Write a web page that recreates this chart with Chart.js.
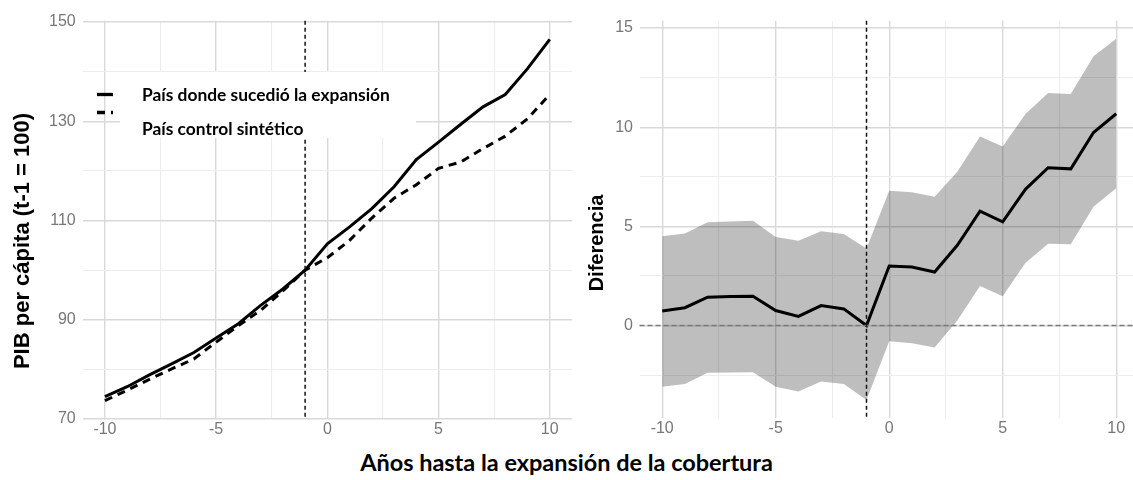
<!DOCTYPE html>
<html lang="es">
<head>
<meta charset="utf-8">
<script src="https://cdn.jsdelivr.net/npm/chart.js@4.4.1/dist/chart.umd.min.js"></script>
<style>
  html, body { margin: 0; padding: 0; background: #fff; }
  body { width: 1133px; height: 480px; position: relative; overflow: hidden; }
  #graficoIzq { position: absolute; left: 0; top: 0; }
  #graficoDer { position: absolute; left: 576px; top: 0; }
  #tituloX { position: absolute; left: 0; width: 1133px; text-align: center; white-space: nowrap;
             font-family: Lato, "Open Sans", sans-serif; font-weight: bold; color: #000; line-height: 1; }
</style>
</head>
<body>
<canvas id="graficoIzq" width="576" height="445"></canvas>
<canvas id="graficoDer" width="557" height="445"></canvas>
<div id="tituloX"></div>

<script>
// datos
const anios = [-10, -9, -8, -7, -6, -5, -4, -3, -2, -1, 0, 1, 2, 3, 4, 5, 6, 7, 8, 9, 10];
const pibPais = [74.5, 76.5, 78.9, 81.1, 83.4, 86.3, 89.2, 92.9, 96.2, 100, 105.3, 108.7, 112.4, 116.8, 122.3, 125.8, 129.4, 132.9, 135.4, 140.6, 146.5];
const pibSintetico = [73.7, 75.8, 78.0, 80.1, 82.1, 85.5, 88.8, 91.9, 95.8, 100, 102.5, 106.0, 110.5, 114.5, 117.2, 120.5, 121.8, 124.5, 127.0, 130.5, 135.4];
const diferencia = [0.73, 0.9, 1.43, 1.47, 1.48, 0.76, 0.46, 1.01, 0.84, 0, 3.0, 2.95, 2.7, 4.05, 5.77, 5.23, 6.87, 7.96, 7.9, 9.73, 10.68];
const difSuperior = [4.5, 4.64, 5.21, 5.25, 5.28, 4.47, 4.27, 4.76, 4.62, 3.88, 6.8, 6.72, 6.5, 7.76, 9.53, 9.03, 10.66, 11.73, 11.68, 13.58, 14.46];
const difInferior = [-3.09, -2.95, -2.38, -2.36, -2.35, -3.09, -3.32, -2.82, -2.95, -3.75, -0.79, -0.89, -1.1, 0.25, 1.99, 1.48, 3.16, 4.13, 4.1, 5.99, 6.92];

const etiquetasLeyenda = ["País donde sucedió la expansión", "País control sintético"];
const marcasX = [-10, -7.5, -5, -2.5, 0, 2.5, 5, 7.5, 10];
const etiquetasX = [-10, -5, 0, 5, 10];
const marcasYIzq = [70, 80, 90, 100, 110, 120, 130, 140, 150];
const etiquetasYIzq = [70, 90, 110, 130, 150];
const marcasYDer = [-2.5, 0, 2.5, 5, 7.5, 10, 12.5, 15];
const etiquetasYDer = [0, 5, 10, 15];
const tituloEjeX = "Años hasta la expansión de la cobertura";
const tituloYIzq = "PIB per cápita (t-1 = 100)";
const tituloYDer = "Diferencia";

const fuenteTicks = { family: "'Liberation Sans', Arial, sans-serif", size: 16 };
const colorTicks = "#777";

function puntos(xs, ys) {
    return xs.map((x, i) => ({ x: x, y: ys[i] }));
}

function ajustarTam(ctx, texto, familia, ancho, base) {
    ctx.font = "bold " + base + "px " + familia;
    return base * ancho / ctx.measureText(texto).width;
}

function ejeLineal(min, max, marcas, etiquetas, extra) {
    return Object.assign({
        type: "linear",
        min: min,
        max: max,
        afterBuildTicks: (s) => { s.ticks = marcas.map((v) => ({ value: v })); },
        grid: {
            drawTicks: false,
            color: (c) => (etiquetas.includes(c.tick.value) ? "#d9d9d9" : "#ededed"),
            lineWidth: (c) => (etiquetas.includes(c.tick.value) ? 1.4 : 1.1),
        },
        border: { display: false },
        ticks: {
            font: fuenteTicks,
            color: colorTicks,
            maxRotation: 0,
            autoSkip: false,
            callback: (v) => (etiquetas.includes(v) ? String(v) : ""),
        },
    }, extra);
}

const lineasReferencia = {
    id: "referencias",
    afterDatasetsDraw(chart, args, opts) {
        const { ctx, chartArea: a, scales } = chart;
        ctx.save();
        if (opts.cero) {
            const py = scales.y.getPixelForValue(0);
            ctx.strokeStyle = "#7a7a7a";
            ctx.lineWidth = 1.5;
            ctx.setLineDash([5, 3]);
            ctx.beginPath(); ctx.moveTo(a.left, py); ctx.lineTo(a.right, py); ctx.stroke();
        }
        const px = scales.x.getPixelForValue(opts.x);
        ctx.strokeStyle = "#111";
        ctx.lineWidth = 1.5;
        ctx.setLineDash([4, 3]);
        ctx.beginPath(); ctx.moveTo(px, a.top); ctx.lineTo(px, a.bottom); ctx.stroke();
        ctx.restore();
    },
};

const tituloY = {
    id: "tituloY",
    afterDraw(chart, args, o) {
        const ctx = chart.ctx;
        ctx.save();
        ctx.translate(o.x, o.y);
        ctx.rotate(-Math.PI / 2);
        ctx.font = "bold " + o.tam + "px 'Liberation Sans', Arial, sans-serif";
        ctx.fillStyle = "#000";
        ctx.textAlign = "center";
        ctx.textBaseline = "middle";
        ctx.fillText(o.texto, 0, 0);
        ctx.restore();
    },
};

const leyenda = {
    id: "leyendaCaja",
    afterDraw(chart) {
        const ctx = chart.ctx;
        ctx.save();
        ctx.fillStyle = "#fff";
        ctx.fillRect(120, 72, 296, 66);
        ctx.strokeStyle = "#000";
        ctx.lineWidth = 3.3;
        ctx.beginPath(); ctx.moveTo(97, 94.5); ctx.lineTo(113, 94.5); ctx.stroke();
        ctx.setLineDash([8, 6]);
        ctx.beginPath(); ctx.moveTo(97, 112.5); ctx.lineTo(113, 112.5); ctx.stroke();
        ctx.setLineDash([]);
        const fam = "Lato, 'Open Sans', sans-serif";
        const tam = ajustarTam(ctx, etiquetasLeyenda[0], fam, 248, 18);
        ctx.font = "bold " + tam + "px " + fam;
        ctx.fillStyle = "#000";
        ctx.textBaseline = "alphabetic";
        ctx.fillText(etiquetasLeyenda[0], 142, 100.5);
        ctx.beginPath(); ctx.rect(120, 72, 296, 65); ctx.clip();
        ctx.fillText(etiquetasLeyenda[1], 142, 134.5);
        ctx.restore();
    },
};

// panel izquierdo
const configIzq = {
    type: "line",
    data: {
        datasets: [
            {
                label: etiquetasLeyenda[0],
                data: puntos(anios, pibPais),
                borderColor: "#000",
                borderWidth: 3,
                pointRadius: 0,
                fill: false,
            },
            {
                label: etiquetasLeyenda[1],
                data: puntos(anios, pibSintetico),
                borderColor: "#000",
                borderWidth: 3,
                borderDash: [8, 6],
                pointRadius: 0,
                fill: false,
            },
        ],
    },
    options: {
        responsive: false,
        animation: false,
        layout: { padding: { top: 20.7, right: 4, left: 0, bottom: 0 } },
        scales: {
            x: ejeLineal(-11, 11, marcasX, etiquetasX, {
                afterFit: (s) => { s.height = 26; },
                ticks: { font: fuenteTicks, color: colorTicks, padding: 1, maxRotation: 0, autoSkip: false,
                         callback: (v) => (etiquetasX.includes(v) ? String(v) : "") },
            }),
            y: ejeLineal(70, 150.26, marcasYIzq, etiquetasYIzq, {
                afterFit: (s) => { s.width = 82.7; },
                ticks: { font: fuenteTicks, color: colorTicks, padding: 7,
                         callback: (v) => (etiquetasYIzq.includes(v) ? String(v) : "") },
            }),
        },
        plugins: {
            legend: { display: false },
            tooltip: { enabled: false },
            referencias: { x: -1, cero: false },
            tituloY: { texto: tituloYIzq, x: 23, y: 241, tam: 22 },
        },
    },
    plugins: [lineasReferencia, leyenda, tituloY],
};

// panel derecho
const configDer = {
    type: "line",
    data: {
        datasets: [
            {
                label: "Diferencia",
                data: puntos(anios, diferencia),
                borderColor: "#000",
                borderWidth: 3,
                pointRadius: 0,
                fill: false,
            },
            {
                label: "Superior",
                data: puntos(anios, difSuperior),
                borderWidth: 0,
                borderColor: "rgba(0,0,0,0)",
                backgroundColor: "rgba(0,0,0,0.255)",
                pointRadius: 0,
                fill: "+1",
            },
            {
                label: "Inferior",
                data: puntos(anios, difInferior),
                borderWidth: 0,
                borderColor: "rgba(0,0,0,0)",
                pointRadius: 0,
                fill: false,
            },
        ],
    },
    options: {
        responsive: false,
        animation: false,
        layout: { padding: { top: 20.7, right: 0, left: 0, bottom: 0 } },
        scales: {
            x: ejeLineal(-11, 10.74, marcasX, etiquetasX, {
                afterFit: (s) => { s.height = 27; },
                ticks: { font: fuenteTicks, color: colorTicks, padding: 1, maxRotation: 0, autoSkip: false,
                         callback: (v) => (etiquetasX.includes(v) ? String(v) : "") },
            }),
            y: ejeLineal(-4.66, 15.37, marcasYDer, etiquetasYDer, {
                afterFit: (s) => { s.width = 63.5; },
                ticks: { font: fuenteTicks, color: colorTicks, padding: 6.5,
                         callback: (v) => (etiquetasYDer.includes(v) ? String(v) : "") },
            }),
        },
        plugins: {
            legend: { display: false },
            tooltip: { enabled: false },
            referencias: { x: -1, cero: true },
            tituloY: { texto: tituloYDer, x: 21, y: 243, tam: 20 },
        },
    },
    plugins: [lineasReferencia, tituloY],
};

new Chart(document.getElementById("graficoIzq"), configIzq);
new Chart(document.getElementById("graficoDer"), configDer);

// titulo comun del eje x
const divTitulo = document.getElementById("tituloX");
const ctxMedida = document.createElement("canvas").getContext("2d");
const tamTitulo = ajustarTam(ctxMedida, tituloEjeX, "Lato", 413, 24);
divTitulo.textContent = tituloEjeX;
divTitulo.style.fontSize = tamTitulo + "px";
divTitulo.style.top = (471.7 - 0.887 * tamTitulo) + "px";
</script>
</body>
</html>
